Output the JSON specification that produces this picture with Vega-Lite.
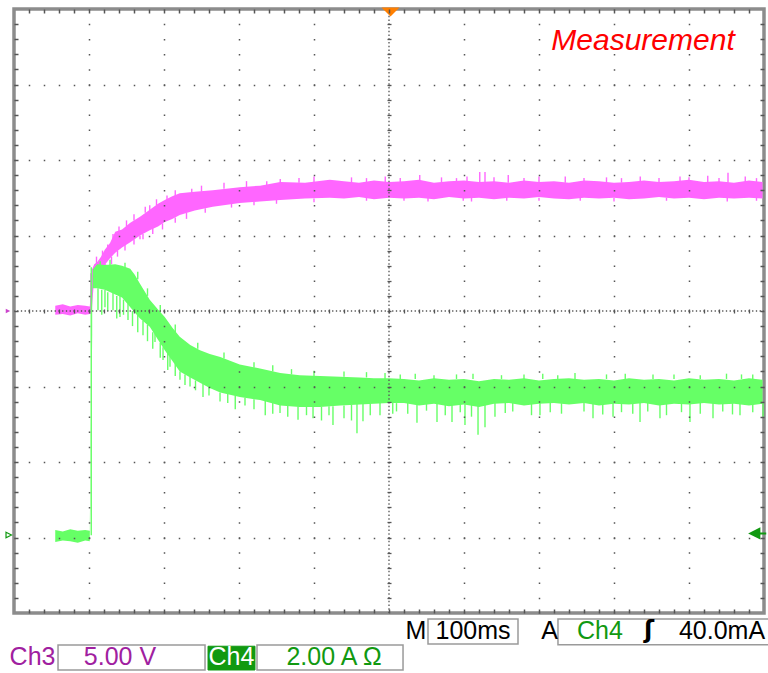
{
  "$schema": "https://vega.github.io/schema/vega-lite/v6.json",
  "width": 750,
  "height": 604,
  "autosize": {"type": "none"},
  "padding": {"left": 14, "top": 9, "right": 4, "bottom": 60},
  "background": "white",
  "config": {"view": {"stroke": "#8c8c8c", "strokeWidth": 3.5}},
  "data": {"values": [{"panel": "status"}]},
  "datasets": {
    "ch3": [
      {"t": 55, "hi": 0.07, "lo": -0.05}, {"t": 65, "hi": 0.09, "lo": -0.04}, {"t": 75, "hi": 0.06, "lo": -0.06},
      {"t": 85, "hi": 0.08, "lo": -0.03}, {"t": 95, "hi": 0.07, "lo": -0.05}, {"t": 101, "hi": 0.06, "lo": -0.04},
      {"t": 102.5, "hi": 0.25, "lo": -0.04}, {"t": 104, "hi": 0.55, "lo": 0.05}, {"t": 107, "hi": 0.62, "lo": 0.45},
      {"t": 111, "hi": 0.65, "lo": 0.52}, {"t": 116, "hi": 0.72, "lo": 0.55}, {"t": 121, "hi": 0.81, "lo": 0.61},
      {"t": 128, "hi": 0.9, "lo": 0.7}, {"t": 135, "hi": 1.05, "lo": 0.77}, {"t": 144, "hi": 1.08, "lo": 0.84},
      {"t": 155, "hi": 1.17, "lo": 0.91}, {"t": 168, "hi": 1.25, "lo": 1.0}, {"t": 181, "hi": 1.34, "lo": 1.07},
      {"t": 192, "hi": 1.42, "lo": 1.12}, {"t": 201, "hi": 1.47, "lo": 1.18}, {"t": 211, "hi": 1.52, "lo": 1.22},
      {"t": 221, "hi": 1.56, "lo": 1.27}, {"t": 241, "hi": 1.58, "lo": 1.33}, {"t": 265, "hi": 1.6, "lo": 1.38},
      {"t": 301, "hi": 1.64, "lo": 1.43}, {"t": 328, "hi": 1.66, "lo": 1.45}, {"t": 355, "hi": 1.71, "lo": 1.47},
      {"t": 388, "hi": 1.7, "lo": 1.49}, {"t": 421, "hi": 1.74, "lo": 1.5}, {"t": 440, "hi": 1.72, "lo": 1.49},
      {"t": 460, "hi": 1.7, "lo": 1.51}, {"t": 480, "hi": 1.73, "lo": 1.48}, {"t": 500, "hi": 1.71, "lo": 1.5},
      {"t": 520, "hi": 1.72, "lo": 1.49}, {"t": 540, "hi": 1.74, "lo": 1.5}, {"t": 560, "hi": 1.7, "lo": 1.48},
      {"t": 580, "hi": 1.72, "lo": 1.51}, {"t": 600, "hi": 1.73, "lo": 1.49}, {"t": 620, "hi": 1.71, "lo": 1.5},
      {"t": 640, "hi": 1.72, "lo": 1.48}, {"t": 660, "hi": 1.7, "lo": 1.5}, {"t": 680, "hi": 1.73, "lo": 1.49},
      {"t": 700, "hi": 1.71, "lo": 1.51}, {"t": 720, "hi": 1.72, "lo": 1.49}, {"t": 740, "hi": 1.7, "lo": 1.48},
      {"t": 760, "hi": 1.73, "lo": 1.5}, {"t": 780, "hi": 1.72, "lo": 1.49}, {"t": 800, "hi": 1.7, "lo": 1.5},
      {"t": 820, "hi": 1.71, "lo": 1.48}, {"t": 840, "hi": 1.73, "lo": 1.49}, {"t": 860, "hi": 1.71, "lo": 1.51},
      {"t": 880, "hi": 1.72, "lo": 1.49}, {"t": 900, "hi": 1.74, "lo": 1.5}, {"t": 920, "hi": 1.71, "lo": 1.48},
      {"t": 940, "hi": 1.72, "lo": 1.5}, {"t": 960, "hi": 1.7, "lo": 1.49}, {"t": 980, "hi": 1.73, "lo": 1.5},
      {"t": 998, "hi": 1.71, "lo": 1.49}
    ],
    "ch4": [
      {"t": 55, "hi": -2.9, "lo": -3.06}, {"t": 65, "hi": -2.92, "lo": -3.04}, {"t": 75, "hi": -2.89, "lo": -3.05},
      {"t": 85, "hi": -2.91, "lo": -3.07}, {"t": 95, "hi": -2.9, "lo": -3.04}, {"t": 101, "hi": -2.91, "lo": -3.05},
      {"t": 105, "hi": 0.55, "lo": 0.3}, {"t": 111, "hi": 0.62, "lo": 0.3}, {"t": 121, "hi": 0.61, "lo": 0.28},
      {"t": 135, "hi": 0.62, "lo": 0.22}, {"t": 144, "hi": 0.6, "lo": 0.18}, {"t": 155, "hi": 0.56, "lo": 0.05},
      {"t": 161, "hi": 0.48, "lo": -0.02}, {"t": 168, "hi": 0.36, "lo": -0.1}, {"t": 181, "hi": 0.15, "lo": -0.21},
      {"t": 192, "hi": 0.02, "lo": -0.38}, {"t": 201, "hi": -0.08, "lo": -0.52}, {"t": 211, "hi": -0.22, "lo": -0.66},
      {"t": 221, "hi": -0.34, "lo": -0.8}, {"t": 235, "hi": -0.45, "lo": -0.88}, {"t": 248, "hi": -0.52, "lo": -0.95},
      {"t": 261, "hi": -0.57, "lo": -1.02}, {"t": 275, "hi": -0.61, "lo": -1.08}, {"t": 301, "hi": -0.71, "lo": -1.14},
      {"t": 328, "hi": -0.76, "lo": -1.18}, {"t": 355, "hi": -0.82, "lo": -1.25}, {"t": 381, "hi": -0.85, "lo": -1.27},
      {"t": 408, "hi": -0.86, "lo": -1.27}, {"t": 435, "hi": -0.87, "lo": -1.25}, {"t": 461, "hi": -0.88, "lo": -1.24},
      {"t": 480, "hi": -0.89, "lo": -1.23}, {"t": 500, "hi": -0.89, "lo": -1.22}, {"t": 520, "hi": -0.9, "lo": -1.22},
      {"t": 540, "hi": -0.92, "lo": -1.25}, {"t": 560, "hi": -0.89, "lo": -1.23}, {"t": 580, "hi": -0.91, "lo": -1.26},
      {"t": 600, "hi": -0.9, "lo": -1.24}, {"t": 620, "hi": -0.93, "lo": -1.27}, {"t": 640, "hi": -0.9, "lo": -1.23},
      {"t": 660, "hi": -0.91, "lo": -1.22}, {"t": 680, "hi": -0.89, "lo": -1.25}, {"t": 700, "hi": -0.92, "lo": -1.23},
      {"t": 720, "hi": -0.9, "lo": -1.22}, {"t": 740, "hi": -0.89, "lo": -1.24}, {"t": 760, "hi": -0.91, "lo": -1.22},
      {"t": 780, "hi": -0.9, "lo": -1.25}, {"t": 800, "hi": -0.92, "lo": -1.23}, {"t": 820, "hi": -0.89, "lo": -1.24},
      {"t": 840, "hi": -0.91, "lo": -1.22}, {"t": 860, "hi": -0.9, "lo": -1.25}, {"t": 880, "hi": -0.92, "lo": -1.23},
      {"t": 900, "hi": -0.89, "lo": -1.24}, {"t": 920, "hi": -0.91, "lo": -1.22}, {"t": 940, "hi": -0.9, "lo": -1.24},
      {"t": 960, "hi": -0.92, "lo": -1.23}, {"t": 980, "hi": -0.89, "lo": -1.25}, {"t": 998, "hi": -0.91, "lo": -1.23}
    ],
    "ch3_spikes": [
      {"t": 102.5, "a": 0.0, "b": 0.5},
      {"t": 168, "a": 1.0, "b": 0.95}, {"t": 181, "a": 1.3, "b": 1.4}, {"t": 204, "a": 1.45, "b": 1.53},
      {"t": 237, "a": 1.55, "b": 1.62}, {"t": 337, "a": 1.65, "b": 1.72}, {"t": 355, "a": 1.7, "b": 1.75},
      {"t": 541, "a": 1.7, "b": 1.8}, {"t": 604, "a": 1.7, "b": 1.78}, {"t": 621, "a": 1.7, "b": 1.84},
      {"t": 628, "a": 1.7, "b": 1.84}, {"t": 659, "a": 1.7, "b": 1.8}, {"t": 735, "a": 1.7, "b": 1.78},
      {"t": 888, "a": 1.7, "b": 1.78}, {"t": 925, "a": 1.7, "b": 1.79}, {"t": 952, "a": 1.7, "b": 1.83},
      {"t": 552, "a": 1.5, "b": 1.45}, {"t": 599, "a": 1.5, "b": 1.46}, {"t": 657, "a": 1.5, "b": 1.46},
      {"t": 755, "a": 1.5, "b": 1.46}, {"t": 951, "a": 1.5, "b": 1.45},
      {"t": 110, "a": 0.62, "b": 0.72}, {"t": 118, "a": 0.7, "b": 0.8}, {"t": 125, "a": 0.78, "b": 0.88},
      {"t": 132, "a": 0.95, "b": 1.02}, {"t": 140, "a": 1.05, "b": 1.12}, {"t": 150, "a": 1.12, "b": 1.2},
      {"t": 160, "a": 1.2, "b": 1.28}, {"t": 175, "a": 1.3, "b": 1.38}, {"t": 190, "a": 1.4, "b": 1.48},
      {"t": 215, "a": 1.52, "b": 1.6}, {"t": 250, "a": 1.58, "b": 1.66}, {"t": 280, "a": 1.62, "b": 1.7},
      {"t": 310, "a": 1.64, "b": 1.72}, {"t": 380, "a": 1.7, "b": 1.76}, {"t": 400, "a": 1.7, "b": 1.78},
      {"t": 113, "a": 0.55, "b": 0.48}, {"t": 122, "a": 0.62, "b": 0.52}, {"t": 130, "a": 0.72, "b": 0.62},
      {"t": 138, "a": 0.8, "b": 0.72}, {"t": 148, "a": 0.88, "b": 0.8}, {"t": 160, "a": 0.95, "b": 0.88},
      {"t": 172, "a": 1.02, "b": 0.95}, {"t": 185, "a": 1.1, "b": 1.02}, {"t": 198, "a": 1.16, "b": 1.08},
      {"t": 215, "a": 1.24, "b": 1.17}, {"t": 230, "a": 1.3, "b": 1.22}, {"t": 255, "a": 1.36, "b": 1.3},
      {"t": 290, "a": 1.42, "b": 1.37}, {"t": 320, "a": 1.45, "b": 1.4}, {"t": 350, "a": 1.47, "b": 1.42},
      {"t": 400, "a": 1.49, "b": 1.44},
      {"t": 450, "a": 1.7, "b": 1.77}, {"t": 470, "a": 1.7, "b": 1.76}, {"t": 495, "a": 1.7, "b": 1.78},
      {"t": 515, "a": 1.7, "b": 1.76}, {"t": 570, "a": 1.7, "b": 1.77}, {"t": 590, "a": 1.7, "b": 1.76},
      {"t": 640, "a": 1.7, "b": 1.77}, {"t": 680, "a": 1.7, "b": 1.76}, {"t": 700, "a": 1.7, "b": 1.78},
      {"t": 760, "a": 1.7, "b": 1.76}, {"t": 790, "a": 1.7, "b": 1.77}, {"t": 810, "a": 1.7, "b": 1.76},
      {"t": 835, "a": 1.7, "b": 1.78}, {"t": 860, "a": 1.7, "b": 1.76}, {"t": 900, "a": 1.7, "b": 1.77},
      {"t": 940, "a": 1.7, "b": 1.76}, {"t": 975, "a": 1.7, "b": 1.78}, {"t": 990, "a": 1.7, "b": 1.76},
      {"t": 470, "a": 1.5, "b": 1.46}, {"t": 520, "a": 1.5, "b": 1.46}, {"t": 610, "a": 1.5, "b": 1.45},
      {"t": 700, "a": 1.5, "b": 1.46}, {"t": 800, "a": 1.5, "b": 1.45}, {"t": 870, "a": 1.5, "b": 1.46},
      {"t": 990, "a": 1.5, "b": 1.46}
    ],
    "ch4_spikes": [
      {"t": 103, "a": -2.97, "b": 0.58},
      {"t": 112, "a": 0.3, "b": 0.01}, {"t": 121.3, "a": 0.28, "b": 0.05}, {"t": 132, "a": 0.24, "b": 0.01},
      {"t": 141.3, "a": 0.2, "b": -0.08}, {"t": 152, "a": 0.1, "b": -0.12}, {"t": 172, "a": -0.13, "b": -0.32},
      {"t": 188, "a": -0.3, "b": -0.41}, {"t": 198.7, "a": -0.48, "b": -0.65}, {"t": 208, "a": -0.6, "b": -0.74},
      {"t": 221.3, "a": -0.8, "b": -0.91}, {"t": 234.7, "a": -0.87, "b": -1.0}, {"t": 252, "a": -0.96, "b": -1.14},
      {"t": 274.7, "a": -1.08, "b": -1.2}, {"t": 308, "a": -1.15, "b": -1.25}, {"t": 354.7, "a": -1.24, "b": -1.35},
      {"t": 378.7, "a": -1.26, "b": -1.44}, {"t": 398.7, "a": -1.27, "b": -1.42}, {"t": 425.3, "a": -1.26, "b": -1.51},
      {"t": 457.3, "a": -1.23, "b": -1.62}, {"t": 465.3, "a": -1.22, "b": -1.46}, {"t": 488, "a": -1.2, "b": -1.38},
      {"t": 537.3, "a": -1.21, "b": -1.48}, {"t": 564, "a": -1.21, "b": -1.47}, {"t": 584, "a": -1.21, "b": -1.47},
      {"t": 601.3, "a": -1.21, "b": -1.51}, {"t": 618.7, "a": -1.21, "b": -1.64}, {"t": 628, "a": -1.21, "b": -1.54},
      {"t": 641.3, "a": -1.21, "b": -1.4}, {"t": 701.3, "a": -1.21, "b": -1.38}, {"t": 772, "a": -1.21, "b": -1.42},
      {"t": 798.7, "a": -1.21, "b": -1.4}, {"t": 834.7, "a": -1.21, "b": -1.47}, {"t": 861.3, "a": -1.21, "b": -1.42},
      {"t": 901.3, "a": -1.21, "b": -1.47}, {"t": 932, "a": -1.21, "b": -1.42}, {"t": 968, "a": -1.21, "b": -1.38},
      {"t": 998.7, "a": -1.21, "b": -1.4},
      {"t": 494.7, "a": -0.9, "b": -0.82}, {"t": 748, "a": -0.9, "b": -0.82}, {"t": 852, "a": -0.9, "b": -0.84},
      {"t": 970, "a": -0.9, "b": -0.84},
      {"t": 515, "a": -0.9, "b": -0.84}, {"t": 535, "a": -0.9, "b": -0.83}, {"t": 560, "a": -0.9, "b": -0.85},
      {"t": 590, "a": -0.9, "b": -0.84}, {"t": 612, "a": -0.9, "b": -0.83}, {"t": 650, "a": -0.9, "b": -0.85},
      {"t": 680, "a": -0.9, "b": -0.84}, {"t": 705, "a": -0.9, "b": -0.83}, {"t": 725, "a": -0.9, "b": -0.85},
      {"t": 790, "a": -0.9, "b": -0.84}, {"t": 815, "a": -0.9, "b": -0.83}, {"t": 880, "a": -0.9, "b": -0.84},
      {"t": 915, "a": -0.9, "b": -0.85}, {"t": 950, "a": -0.9, "b": -0.83}, {"t": 985, "a": -0.9, "b": -0.84},
      {"t": 510, "a": -1.22, "b": -1.33}, {"t": 525, "a": -1.22, "b": -1.36}, {"t": 550, "a": -1.22, "b": -1.32},
      {"t": 575, "a": -1.22, "b": -1.38}, {"t": 595, "a": -1.22, "b": -1.34}, {"t": 610, "a": -1.22, "b": -1.4},
      {"t": 655, "a": -1.22, "b": -1.35}, {"t": 665, "a": -1.22, "b": -1.33}, {"t": 690, "a": -1.22, "b": -1.38},
      {"t": 715, "a": -1.22, "b": -1.34}, {"t": 730, "a": -1.22, "b": -1.36}, {"t": 760, "a": -1.22, "b": -1.33},
      {"t": 785, "a": -1.22, "b": -1.37}, {"t": 810, "a": -1.22, "b": -1.34}, {"t": 825, "a": -1.22, "b": -1.36},
      {"t": 845, "a": -1.22, "b": -1.33}, {"t": 870, "a": -1.22, "b": -1.38}, {"t": 890, "a": -1.22, "b": -1.34},
      {"t": 915, "a": -1.22, "b": -1.36}, {"t": 945, "a": -1.22, "b": -1.33}, {"t": 958, "a": -1.22, "b": -1.37},
      {"t": 985, "a": -1.22, "b": -1.34},
      {"t": 115, "a": 0.58, "b": 0.66}, {"t": 128, "a": 0.6, "b": 0.68}, {"t": 148, "a": 0.58, "b": 0.64},
      {"t": 165, "a": 0.42, "b": 0.52}, {"t": 178, "a": 0.2, "b": 0.3}, {"t": 195, "a": -0.02, "b": 0.08},
      {"t": 215, "a": -0.28, "b": -0.18}, {"t": 245, "a": -0.5, "b": -0.42}, {"t": 280, "a": -0.63, "b": -0.55},
      {"t": 320, "a": -0.75, "b": -0.68}, {"t": 345, "a": -0.8, "b": -0.72}, {"t": 370, "a": -0.84, "b": -0.77},
      {"t": 400, "a": -0.86, "b": -0.79}, {"t": 440, "a": -0.87, "b": -0.8}, {"t": 470, "a": -0.88, "b": -0.81},
      {"t": 117, "a": 0.28, "b": -0.05}, {"t": 125, "a": 0.25, "b": 0.0}, {"t": 137, "a": 0.2, "b": -0.1},
      {"t": 146, "a": 0.15, "b": -0.05}, {"t": 158, "a": 0.0, "b": -0.2}, {"t": 165, "a": -0.05, "b": -0.28},
      {"t": 178, "a": -0.18, "b": -0.4}, {"t": 185, "a": -0.28, "b": -0.5}, {"t": 195, "a": -0.42, "b": -0.62},
      {"t": 205, "a": -0.55, "b": -0.78}, {"t": 215, "a": -0.7, "b": -0.86}, {"t": 228, "a": -0.84, "b": -0.98},
      {"t": 242, "a": -0.92, "b": -1.05}, {"t": 260, "a": -1.0, "b": -1.12}, {"t": 285, "a": -1.1, "b": -1.22},
      {"t": 295, "a": -1.12, "b": -1.3}, {"t": 320, "a": -1.17, "b": -1.3}, {"t": 335, "a": -1.19, "b": -1.38},
      {"t": 345, "a": -1.22, "b": -1.36}, {"t": 365, "a": -1.25, "b": -1.4}, {"t": 390, "a": -1.27, "b": -1.38},
      {"t": 410, "a": -1.27, "b": -1.45}, {"t": 420, "a": -1.26, "b": -1.38}, {"t": 440, "a": -1.25, "b": -1.42},
      {"t": 450, "a": -1.24, "b": -1.45}, {"t": 475, "a": -1.23, "b": -1.38}, {"t": 505, "a": -1.22, "b": -1.36}
    ]
  },
  "resolve": {"axis": {"x": "independent", "y": "independent"}},
  "layer": [
    {
      "data": {"name": "ch3"},
      "mark": {"type": "area", "color": "#ff66ff", "opacity": 1},
      "encoding": {
        "x": {"field": "t", "type": "quantitative", "scale": {"domain": [0, 1000], "nice": false, "zero": false},
          "axis": {"orient": "bottom", "values": [20,40,60,80,100,120,140,160,180,200,220,240,260,280,300,320,340,360,380,400,420,440,460,480,500,520,540,560,580,600,620,640,660,680,700,720,740,760,780,800,820,840,860,880,900,920,940,960,980],
            "ticks": true, "tickSize": -4, "tickColor": "#555", "tickWidth": 1.5, "domain": false, "labels": false, "grid": false, "title": null, "zindex": 1}},
        "y": {"field": "hi", "type": "quantitative", "scale": {"domain": [-4, 4], "nice": false, "zero": false},
          "axis": {"orient": "left", "values": [-3.8,-3.6,-3.4,-3.2,-3,-2.8,-2.6,-2.4,-2.2,-2,-1.8,-1.6,-1.4,-1.2,-1,-0.8,-0.6,-0.4,-0.2,0,0.2,0.4,0.6,0.8,1,1.2,1.4,1.6,1.8,2,2.2,2.4,2.6,2.8,3,3.2,3.4,3.6,3.8],
            "ticks": true, "tickSize": -4, "tickColor": "#555", "tickWidth": 1.5, "domain": false, "labels": false, "grid": false, "title": null, "zindex": 1}},
        "y2": {"field": "lo"}
      }
    },
    {
      "data": {"name": "ch3_spikes"},
      "mark": {"type": "rule", "color": "#ff66ff", "strokeWidth": 1.4},
      "encoding": {
        "x": {"field": "t", "type": "quantitative", "scale": {"domain": [0, 1000], "nice": false, "zero": false}, "axis": null},
        "y": {"field": "a", "type": "quantitative", "scale": {"domain": [-4, 4], "nice": false, "zero": false}, "axis": null},
        "y2": {"field": "b"}
      }
    },
    {
      "data": {"name": "ch4"},
      "mark": {"type": "area", "color": "#66ff66", "opacity": 1},
      "encoding": {
        "x": {"field": "t", "type": "quantitative", "scale": {"domain": [0, 1000], "nice": false, "zero": false},
          "axis": {"orient": "top", "values": [20,40,60,80,100,120,140,160,180,200,220,240,260,280,300,320,340,360,380,400,420,440,460,480,500,520,540,560,580,600,620,640,660,680,700,720,740,760,780,800,820,840,860,880,900,920,940,960,980],
            "ticks": true, "tickSize": -4, "tickColor": "#555", "tickWidth": 1.5, "domain": false, "labels": false, "grid": false, "title": null, "zindex": 1}},
        "y": {"field": "hi", "type": "quantitative", "scale": {"domain": [-4, 4], "nice": false, "zero": false},
          "axis": {"orient": "right", "values": [-3.8,-3.6,-3.4,-3.2,-3,-2.8,-2.6,-2.4,-2.2,-2,-1.8,-1.6,-1.4,-1.2,-1,-0.8,-0.6,-0.4,-0.2,0,0.2,0.4,0.6,0.8,1,1.2,1.4,1.6,1.8,2,2.2,2.4,2.6,2.8,3,3.2,3.4,3.6,3.8],
            "ticks": true, "tickSize": -4, "tickColor": "#555", "tickWidth": 1.5, "domain": false, "labels": false, "grid": false, "title": null, "zindex": 1}},
        "y2": {"field": "lo"}
      }
    },
    {
      "data": {"name": "ch4_spikes"},
      "mark": {"type": "rule", "color": "#66ff66", "strokeWidth": 1.4},
      "encoding": {
        "x": {"field": "t", "type": "quantitative", "scale": {"domain": [0, 1000], "nice": false, "zero": false},
          "axis": {"orient": "bottom", "offset": -304, "values": [20,40,60,80,100,120,140,160,180,200,220,240,260,280,300,320,340,360,380,400,420,440,460,480,500,520,540,560,580,600,620,640,660,680,700,720,740,760,780,800,820,840,860,880,900,920,940,960,980],
            "ticks": true, "tickSize": 4, "tickColor": "#555", "tickWidth": 1.3, "domain": false, "labels": false, "grid": false, "title": null, "zindex": 1}},
        "y": {"field": "a", "type": "quantitative", "scale": {"domain": [-4, 4], "nice": false, "zero": false},
          "axis": {"orient": "left", "offset": -377, "values": [-3.8,-3.6,-3.4,-3.2,-3,-2.8,-2.6,-2.4,-2.2,-2,-1.8,-1.6,-1.4,-1.2,-1,-0.8,-0.6,-0.4,-0.2,0,0.2,0.4,0.6,0.8,1,1.2,1.4,1.6,1.8,2,2.2,2.4,2.6,2.8,3,3.2,3.4,3.6,3.8],
            "ticks": true, "tickSize": 4, "tickColor": "#555", "tickWidth": 1.3, "domain": false, "labels": false, "grid": false, "title": null, "zindex": 1}},
        "y2": {"field": "b"}
      }
    },
    {
      "mark": {"type": "rule", "color": "#555", "strokeWidth": 1.3, "strokeDash": [1.3, 2.45], "strokeDashOffset": 0.65},
      "encoding": {
        "x": {"datum": 500, "type": "quantitative", "scale": {"domain": [0, 1000], "nice": false, "zero": false},
          "axis": {"orient": "bottom", "values": [100,200,300,400,600,700,800,900], "grid": true, "gridColor": "#555", "gridWidth": 1.5, "gridDash": [1.5, 13.6], "gridDashOffset": 0.75,
            "domain": false, "ticks": false, "labels": false, "title": null, "zindex": 1}}
      }
    },
    {
      "mark": {"type": "rule", "color": "#555", "strokeWidth": 1.3, "strokeDash": [1.3, 2.45], "strokeDashOffset": 0.65},
      "encoding": {
        "y": {"datum": 0, "type": "quantitative", "scale": {"domain": [-4, 4], "nice": false, "zero": false},
          "axis": {"orient": "left", "values": [-3,-2,-1,1,2,3], "grid": true, "gridColor": "#555", "gridWidth": 1.5, "gridDash": [1.5, 13.5], "gridDashOffset": 0.75,
            "domain": false, "ticks": false, "labels": false, "title": null, "zindex": 1}}
      }
    },
    {
      "mark": {"type": "point", "shape": "M-1,-0.5L1,-0.5L0,0.5Z", "size": 324, "filled": true, "color": "#ff7f00", "opacity": 1},
      "encoding": {
        "x": {"datum": 502, "type": "quantitative", "axis": null},
        "y": {"datum": 3.96, "type": "quantitative", "axis": null}
      }
    },
    {
      "mark": {"type": "point", "shape": "M1,-1L-1,0L1,1Z", "size": 150, "filled": true, "color": "#119911", "opacity": 1},
      "encoding": {
        "x": {"datum": 987, "type": "quantitative", "axis": null},
        "y": {"datum": -2.947, "type": "quantitative", "axis": null}
      }
    },
    {
      "mark": {"type": "rule", "color": "#119911", "strokeWidth": 2},
      "encoding": {
        "x": {"datum": 990, "type": "quantitative", "axis": null},
        "x2": {"datum": 1003},
        "y": {"datum": -2.947, "type": "quantitative", "axis": null}
      }
    },
    {
      "mark": {"type": "point", "shape": "M-1,-1L1,0L-1,1Z", "size": 30, "filled": false, "color": "#119911", "strokeWidth": 1.2, "opacity": 1},
      "encoding": {
        "x": {"datum": -7, "type": "quantitative", "axis": null},
        "y": {"datum": -2.967, "type": "quantitative", "axis": null}
      }
    },
    {
      "mark": {"type": "point", "shape": "M-1,-1L1,0L-1,1Z", "size": 20, "filled": true, "color": "#cc44cc", "opacity": 1},
      "encoding": {
        "x": {"datum": -8, "type": "quantitative", "axis": null},
        "y": {"datum": 0, "type": "quantitative", "axis": null}
      }
    },
    {
      "mark": {"type": "text", "text": "Measurement", "font": "Liberation Sans", "fontStyle": "italic", "fontSize": 30, "color": "#ff0000", "align": "right", "baseline": "middle"},
      "encoding": {
        "x": {"datum": 961, "type": "quantitative", "axis": null},
        "y": {"datum": 3.576, "type": "quantitative", "axis": null}
      }
    },
    {
      "mark": {"type": "rect", "fill": "white", "stroke": "#9a9a9a", "strokeWidth": 1.5},
      "encoding": {
        "x": {"datum": 552, "type": "quantitative", "axis": null}, "x2": {"datum": 672},
        "y": {"datum": -4.079, "type": "quantitative", "axis": null}, "y2": {"datum": -4.411}
      }
    },
    {
      "mark": {"type": "rect", "fill": "white", "stroke": "#9a9a9a", "strokeWidth": 1.5},
      "encoding": {
        "x": {"datum": 725.3, "type": "quantitative", "axis": null}, "x2": {"datum": 1008},
        "y": {"datum": -4.079, "type": "quantitative", "axis": null}, "y2": {"datum": -4.42}
      }
    },
    {
      "mark": {"type": "rect", "fill": "white", "stroke": "#9a9a9a", "strokeWidth": 1.5},
      "encoding": {
        "x": {"datum": 58.7, "type": "quantitative", "axis": null}, "x2": {"datum": 254.7},
        "y": {"datum": -4.424, "type": "quantitative", "axis": null}, "y2": {"datum": -4.755}
      }
    },
    {
      "mark": {"type": "rect", "fill": "#119911", "stroke": "#119911", "strokeWidth": 1},
      "encoding": {
        "x": {"datum": 258.7, "type": "quantitative", "axis": null}, "x2": {"datum": 321.3},
        "y": {"datum": -4.44, "type": "quantitative", "axis": null}, "y2": {"datum": -4.755}
      }
    },
    {
      "mark": {"type": "rect", "fill": "white", "stroke": "#9a9a9a", "strokeWidth": 1.5},
      "encoding": {
        "x": {"datum": 324, "type": "quantitative", "axis": null}, "x2": {"datum": 518.7},
        "y": {"datum": -4.424, "type": "quantitative", "axis": null}, "y2": {"datum": -4.755}
      }
    },
    {
      "mark": {"type": "text", "text": "M", "font": "Liberation Sans", "fontSize": 25, "color": "#000", "align": "center", "baseline": "middle"},
      "encoding": {"x": {"datum": 536, "type": "quantitative", "axis": null}, "y": {"datum": -4.238, "type": "quantitative", "axis": null}}
    },
    {
      "mark": {"type": "text", "text": "100ms", "font": "Liberation Sans", "fontSize": 25, "color": "#000", "align": "center", "baseline": "middle"},
      "encoding": {"x": {"datum": 612, "type": "quantitative", "axis": null}, "y": {"datum": -4.238, "type": "quantitative", "axis": null}}
    },
    {
      "mark": {"type": "text", "text": "A", "font": "Liberation Sans", "fontSize": 25, "color": "#000", "align": "center", "baseline": "middle"},
      "encoding": {"x": {"datum": 714, "type": "quantitative", "axis": null}, "y": {"datum": -4.238, "type": "quantitative", "axis": null}}
    },
    {
      "mark": {"type": "text", "text": "Ch4", "font": "Liberation Sans", "fontSize": 25, "color": "#119911", "align": "center", "baseline": "middle"},
      "encoding": {"x": {"datum": 781.3, "type": "quantitative", "axis": null}, "y": {"datum": -4.238, "type": "quantitative", "axis": null}}
    },
    {
      "mark": {"type": "text", "text": "ʃ", "font": "DejaVu Sans", "fontWeight": "bold", "fontSize": 24, "color": "#000", "align": "center", "baseline": "middle"},
      "encoding": {"x": {"datum": 846.7, "type": "quantitative", "axis": null}, "y": {"datum": -4.238, "type": "quantitative", "axis": null}}
    },
    {
      "mark": {"type": "text", "text": "40.0mA", "font": "Liberation Sans", "fontSize": 25, "color": "#000", "align": "center", "baseline": "middle"},
      "encoding": {"x": {"datum": 944, "type": "quantitative", "axis": null}, "y": {"datum": -4.238, "type": "quantitative", "axis": null}}
    },
    {
      "mark": {"type": "text", "text": "Ch3", "font": "Liberation Sans", "fontSize": 25, "color": "#a020a0", "align": "center", "baseline": "middle"},
      "encoding": {"x": {"datum": 24.7, "type": "quantitative", "axis": null}, "y": {"datum": -4.583, "type": "quantitative", "axis": null}}
    },
    {
      "mark": {"type": "text", "text": "5.00 V", "font": "Liberation Sans", "fontSize": 25, "color": "#a020a0", "align": "center", "baseline": "middle"},
      "encoding": {"x": {"datum": 141.3, "type": "quantitative", "axis": null}, "y": {"datum": -4.583, "type": "quantitative", "axis": null}}
    },
    {
      "mark": {"type": "text", "text": "Ch4", "font": "Liberation Sans", "fontSize": 25, "color": "#ffffff", "align": "center", "baseline": "middle"},
      "encoding": {"x": {"datum": 290, "type": "quantitative", "axis": null}, "y": {"datum": -4.583, "type": "quantitative", "axis": null}}
    },
    {
      "mark": {"type": "text", "text": "2.00 A Ω", "font": "Liberation Sans", "fontSize": 25, "color": "#119911", "align": "center", "baseline": "middle"},
      "encoding": {"x": {"datum": 426.7, "type": "quantitative", "axis": null}, "y": {"datum": -4.583, "type": "quantitative", "axis": null}}
    }
  ]
}
